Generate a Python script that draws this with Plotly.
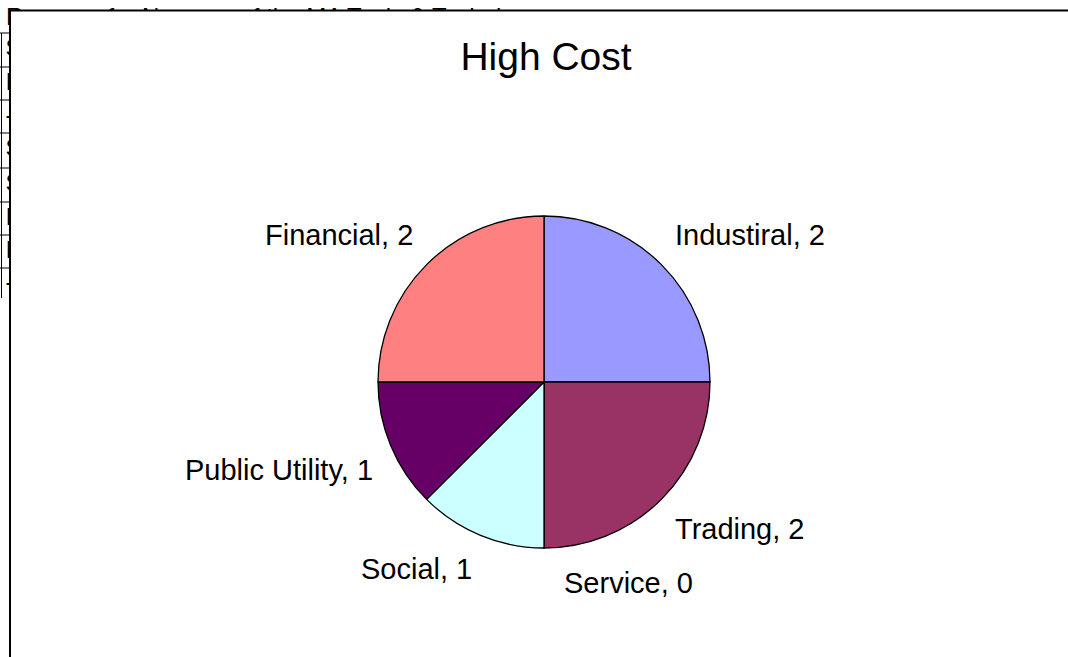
import math
import plotly.graph_objects as go

W, H = 1068, 657

# ---- data ----
categories = ["Industiral", "Trading", "Service", "Social", "Public Utility", "Financial"]
values = [2, 2, 0, 1, 1, 2]
colors = ["#9999FF", "#993366", "#FFFFCC", "#CCFFFF", "#660066", "#FF8080"]
title_text = "High Cost"

# background spreadsheet clutter (partially hidden behind the chart frame)
sheet_title = "Reasons for Non-use of the MA Tools & Techniques"
sheet_rows = ["S", "I", "-", "S", "S", "I", "I", "-"]
row_centers = [50, 84, 117, 150, 185, 219, 252, 284]
grid_y = [33, 67, 100, 133, 168, 202, 235, 268]

FONT = "Arial, Liberation Sans, sans-serif"

# pie geometry (pixels)
cx, cy, r = 544, 382, 166

def px(x):
    return x / W

def py(y):
    return 1 - y / H

fig = go.Figure()

# background sheet text (drawn on a full-page pixel axis, then covered by the chart area)
fig.add_trace(go.Scatter(
    x=[6], y=[19], mode="text", text=[sheet_title],
    textposition="middle right", textfont=dict(family=FONT, size=24, color="black"),
    hoverinfo="skip", showlegend=False, cliponaxis=False,
))
fig.add_trace(go.Scatter(
    x=[5.5] * len(sheet_rows), y=row_centers, mode="text", text=sheet_rows,
    textposition="middle right", textfont=dict(family=FONT, size=24, color="black"),
    hoverinfo="skip", showlegend=False, cliponaxis=False,
))

fig.add_trace(go.Pie(
    labels=categories,
    values=values,
    sort=False,
    direction="clockwise",
    rotation=0,
    marker=dict(colors=colors, line=dict(color="black", width=1.3)),
    textinfo="none",
    hoverinfo="label+value",
    showlegend=False,
    domain=dict(x=[px(cx - r), px(cx + r)], y=[py(cy + r), py(cy - r)]),
))

# labels placed at mid-angles computed from the data
total = sum(values)
annotations = []
cum = 0
lr = 1.1 * r
for cat, v in zip(categories, values):
    mid = (cum + v / 2) / total * 2 * math.pi
    cum += v
    s, c = math.sin(mid), math.cos(mid)
    lx = cx + lr * s
    ly = cy - lr * c
    if abs(s) < 1e-6:
        xa = "left"
        lx += 18
    else:
        xa = "left" if s > 0 else "right"
    ya = "bottom" if c > 0 else "top"
    annotations.append(dict(
        x=px(lx), y=py(ly), xref="paper", yref="paper",
        text=f"{cat}, {v}", showarrow=False,
        xanchor=xa, yanchor=ya,
        font=dict(family=FONT, size=29, color="black"),
    ))

shapes = []
# white chart-area covers hiding the sheet text behind the chart
shapes.append(dict(type="rect", xref="paper", yref="paper", layer="above",
                   x0=px(10.5), x1=px(W + 20), y0=py(205), y1=py(10.5),
                   line=dict(width=0), fillcolor="white"))
shapes.append(dict(type="rect", xref="paper", yref="paper", layer="above",
                   x0=px(10.5), x1=px(160), y0=py(330), y1=py(10.5),
                   line=dict(width=0), fillcolor="white"))
# left spreadsheet grid lines
for gy in grid_y:
    shapes.append(dict(type="line", xref="paper", yref="paper", layer="above",
                       x0=px(0), x1=px(10), y0=py(gy), y1=py(gy),
                       line=dict(color="black", width=1)))
shapes.append(dict(type="line", xref="paper", yref="paper", layer="above",
                   x0=px(1.5), x1=px(1.5), y0=py(33), y1=py(298),
                   line=dict(color="black", width=1)))
# chart frame
shapes.append(dict(type="rect", xref="paper", yref="paper", layer="above",
                   x0=px(10), x1=px(W + 20), y0=py(H + 20), y1=py(10.5),
                   line=dict(color="black", width=2), fillcolor="rgba(0,0,0,0)"))

hidden = dict(visible=False, fixedrange=True)
fig.update_layout(
    width=W, height=H,
    margin=dict(l=0, r=0, t=0, b=0),
    paper_bgcolor="white", plot_bgcolor="rgba(0,0,0,0)",
    font=dict(family=FONT, color="black"),
    title=dict(text=title_text, x=px(546), xanchor="center", y=py(56), yanchor="middle",
               font=dict(family=FONT, size=39, color="black")),
    xaxis=dict(domain=[0, 1], range=[0, W], **hidden),
    yaxis=dict(domain=[0, 1], range=[H, 0], **hidden),
    annotations=annotations,
    shapes=shapes,
    showlegend=False,
)

fig.write_html("out.html")
